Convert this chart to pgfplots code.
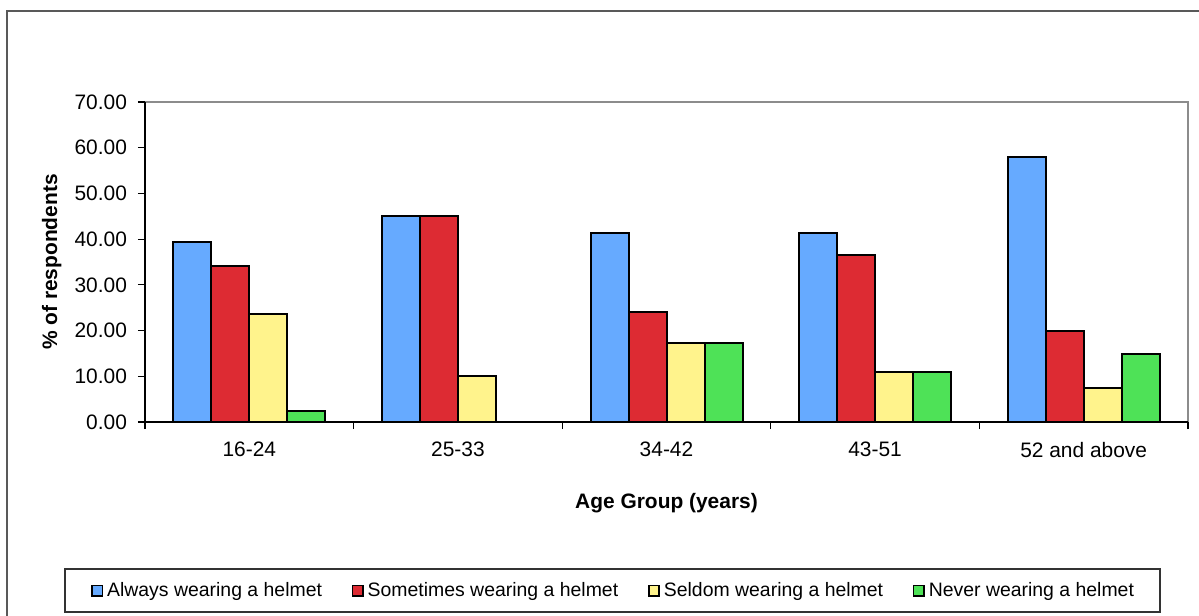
\documentclass[border=0pt]{standalone}
\usepackage{pgfplots}
\usepackage{pgfplotstable}
\pgfplotsset{compat=1.18}
\usepackage{fontspec}
\setmainfont{Liberation Sans}

\definecolor{cAlways}{HTML}{66AAFF}
\definecolor{cSometimes}{HTML}{DD2B33}
\definecolor{cSeldom}{HTML}{FFF38C}
\definecolor{cNever}{HTML}{4EE257}

% Share of respondents (%) by age group and helmet use
\pgfplotstableread{
x always sometimes seldom never
0 39.44 34.10 23.56 2.50
1 45.06 45.06 10.06 nan
2 41.28 24.13 17.20 17.20
3 41.28 36.50 11.00 11.00
4 57.90 20.00 7.40 14.90
}\helmetdata

\pgfplotsset{
  sqlegend/.style={legend image code/.code={
      \path (-1bp,0bp);
      \draw[##1, line width=0.8bp] (0bp,-2.6bp) rectangle (5.2bp,2.6bp);}},
}

\begin{document}
\begin{tikzpicture}
% outer chart frame
\draw[black!65, line width=0.8bp] (3.5bp,-10bp) -- (3.5bp,302.5bp) -- (610bp,302.5bp);
\begin{axis}[
  at={(72.5bp,97bp)}, anchor=south west,
  scale only axis, width=521.5bp, height=160bp,
  ybar=0pt, bar width=19bp,
  xmin=-0.5, xmax=4.5, ymin=0, ymax=70,
  xtick={-0.5,0.5,1.5,2.5,3.5,4.5},
  x tick label as interval,
  xticklabels={16-24,25-33,34-42,43-51,52 and above},
  ytick={0,10,20,30,40,50,60,70},
  tick align=outside, major tick length=3.5bp,
  tick style={black, line width=0.6bp},
  axis x line*=bottom, axis y line*=left,
  axis line style={-, black, line width=0.75bp},
  axis background/.style={draw=black!45, line width=1.2bp},
  /pgf/number format/assume math mode=true,
  yticklabel style={xshift=-2bp, /pgf/number format/fixed, /pgf/number format/fixed zerofill, /pgf/number format/precision=2},
  xticklabel style={yshift=-3bp},
  tick label style={font=\fontsize{10.5}{12}\selectfont},
  label style={font=\bfseries\fontsize{10.5}{12}\selectfont},
  xlabel={Age Group (years)},
  xlabel style={at={(axis description cs:0.5,-0.254)}, anchor=center},
  ylabel={\% of respondents},
  ylabel style={at={(axis description cs:-0.0895,0.5)}, anchor=center},
  legend style={at={(axis description cs:0.4482,-0.5266)}, anchor=center,
    legend columns=4, draw=black!80, line width=0.75bp,
    font=\fontsize{9.75}{11}\selectfont,
    inner xsep=12bp, inner ysep=5bp,
    nodes={inner xsep=1bp, inner ysep=1.5bp},
    /tikz/every odd column/.append style={column sep=1bp},
    /tikz/every even column/.append style={column sep=12.75bp}},
  every axis plot/.append style={draw=black, line width=1bp},
]
\addplot[fill=cAlways, sqlegend] table[x=x, y=always] {\helmetdata};
\addplot[fill=cSometimes, sqlegend] table[x=x, y=sometimes] {\helmetdata};
\addplot[fill=cSeldom, sqlegend] table[x=x, y=seldom] {\helmetdata};
\addplot[fill=cNever, sqlegend] table[x=x, y=never] {\helmetdata};
\legend{Always wearing a helmet, Sometimes wearing a helmet, Seldom wearing a helmet, Never wearing a helmet}
\end{axis}
\pgfresetboundingbox
\useasboundingbox (0,0) rectangle (599.5bp,308bp);
\end{tikzpicture}
\end{document}
